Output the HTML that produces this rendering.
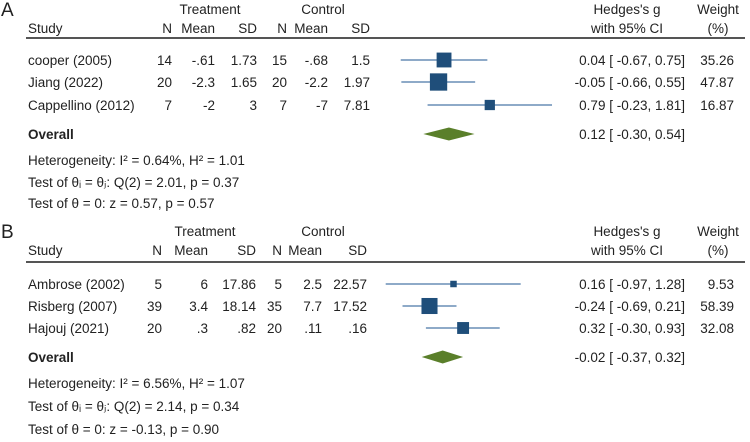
<!DOCTYPE html>
<html><head><meta charset="utf-8"><style>
body{margin:0;background:#fff;}
svg text{font-family:"Liberation Sans",sans-serif;font-size:13.5px;fill:#222;}
</style></head><body>
<svg width="750" height="437" id="svg"></svg>
<script>
const studiesA=["cooper (2005)","Jiang (2022)","Cappellino (2012)"];
const tNA=["14","20","7"],tMeanA=["-.61","-2.3","-2"],tSDA=["1.73","1.65","3"];
const cNA=["15","20","7"],cMeanA=["-.68","-2.2","-7"],cSDA=["1.5","1.97","7.81"];
const gA=[0.04,-0.05,0.79],loA=[-0.67,-0.66,-0.23],hiA=[0.75,0.55,1.81],wA=[35.26,47.87,16.87];
const overallA=[0.12,-0.30,0.54];
const statsA=["Heterogeneity: I² = 0.64%, H² = 1.01","Test of θᵢ = θⱼ: Q(2) = 2.01, p = 0.37","Test of θ = 0: z = 0.57, p = 0.57"];
const studiesB=["Ambrose (2002)","Risberg (2007)","Hajouj (2021)"];
const tNB=["5","39","20"],tMeanB=["6","3.4",".3"],tSDB=["17.86","18.14",".82"];
const cNB=["5","35","20"],cMeanB=["2.5","7.7",".11"],cSDB=["22.57","17.52",".16"];
const gB=[0.16,-0.24,0.32],loB=[-0.97,-0.69,-0.30],hiB=[1.28,0.21,0.93],wB=[9.53,58.39,32.08];
const overallB=[-0.02,-0.37,0.32];
const statsB=["Heterogeneity: I² = 6.56%, H² = 1.07","Test of θᵢ = θⱼ: Q(2) = 2.14, p = 0.34","Test of θ = 0: z = -0.13, p = 0.90"];

const svg=document.getElementById('svg');const NS="http://www.w3.org/2000/svg";
function mk(tag,attrs,name,parent){const e=document.createElementNS(NS,tag);for(const k in attrs)e.setAttribute(k,attrs[k]);


(parent||svg).appendChild(e);return e;}
function txt(x,y,s,name,anchor,extra){const t=mk('text',Object.assign({x:x,y:y,'text-anchor':anchor||'start'},extra||{}),name);t.textContent=s;return t;}
const fmt=v=>v.toFixed(2);
function panel(P){
  const X=g=>P.x0+P.k*g;
  txt(1,P.top+16,P.label,'panel-label-'+P.label,'start',{style:'font-size:19px'});
  txt(P.tx,P.top+14,"Treatment",'treatment-header','middle');
  txt(P.cx,P.top+14,"Control",'control-header','middle');
  txt(627,P.top+14,"Hedges's g",'hedges-header','middle');
  txt(718,P.top+14,"Weight",'weight-header','middle');
  const hy=P.top+33;
  txt(28,hy,"Study",'study-header');
  ["N","Mean","SD","N","Mean","SD"].forEach((h,i)=>txt(P.cols[i],hy,h,'col-header','end'));
  txt(627,hy,"with 95% CI",'ci-header','middle');
  txt(718,hy,"(%)",'weight-pct-header','middle');
  mk('line',{x1:26,x2:745,y1:P.line,y2:P.line,stroke:'#555','stroke-width':2},'header-rule');
  P.studies.forEach((s,i)=>{
    const y=P.rows[i];
    txt(28,y+5,s,'study-name');
    [P.tN,P.tM,P.tS,P.cN,P.cM,P.cS].forEach((a,j)=>txt(P.cols[j],y+5,a[i],'cell','end'));
    mk('line',{x1:X(P.lo[i]),x2:X(P.hi[i]),y1:y,y2:y,stroke:'#4a78a8','stroke-width':1.3},'ci-line');
    const sz=P.bk*Math.sqrt(P.w[i]);
    mk('rect',{x:X(P.g[i])-sz/2,y:y-sz/2,width:sz,height:sz,fill:'#1f4e7a'},'study-box');
    txt(685,y+5,fmt(P.g[i])+" [ "+fmt(P.lo[i])+",  "+fmt(P.hi[i])+"]",'effect-ci','end');
    txt(734,y+5,fmt(P.w[i]),'weight-value','end');
  });
  const oy=P.oy,o=P.ov;
  txt(28,oy+5,"Overall",'overall-label','start',{'font-weight':'bold'});
  mk('polygon',{points:`${X(o[1])},${oy} ${X(o[0])},${oy-6.5} ${X(o[2])},${oy} ${X(o[0])},${oy+6.5}`,fill:'#5a7f2a'},'overall-diamond');
  txt(685,oy+5,fmt(o[0])+" [ "+fmt(o[1])+",  "+fmt(o[2])+"]",'overall-ci','end');
  P.stats.forEach((s,i)=>txt(28,P.sy[i]+5,s,'stat-line',null,{style:'font-size:13.5px'}));
}
panel({label:"A",top:0,line:38,x0:441.6,k:61,bk:2.5,tx:210,cx:323,cols:[172,215,257,287,328,370],rows:[60,82,105],oy:134,sy:[160,182,203],
 studies:studiesA,tN:tNA,tM:tMeanA,tS:tSDA,cN:cNA,cM:cMeanA,cS:cSDA,g:gA,lo:loA,hi:hiA,w:wA,ov:overallA,stats:statsA});
panel({label:"B",top:222,line:262,x0:443.9,k:60,bk:2.1,tx:205,cx:323,cols:[162,208,256,282,322,367],rows:[284,306,328],oy:357,sy:[383,406,429],
 studies:studiesB,tN:tNB,tM:tMeanB,tS:tSDB,cN:cNB,cM:cMeanB,cS:cSDB,g:gB,lo:loB,hi:hiB,w:wB,ov:overallB,stats:statsB});
</script>
</body></html>
